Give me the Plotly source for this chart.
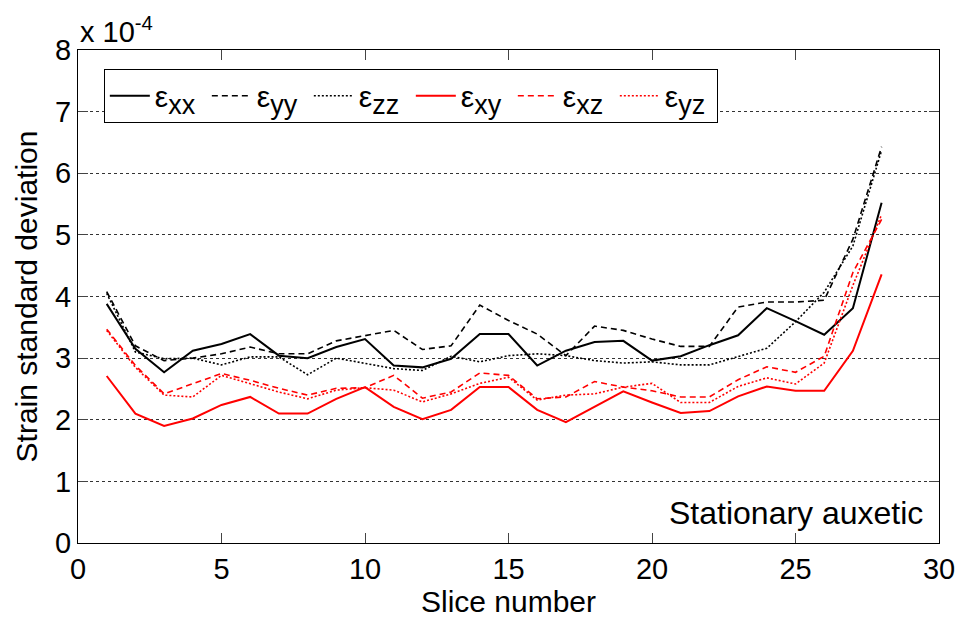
import plotly.graph_objects as go

slices = list(range(1, 29))

e_xx = [3.88, 3.15, 2.77, 3.12, 3.23, 3.39, 3.04, 3.00, 3.18, 3.31, 2.88, 2.85, 2.99, 3.39,
        3.39, 2.88, 3.12, 3.26, 3.28, 2.96, 3.03, 3.21, 3.37, 3.81, 3.60, 3.38, 3.81, 5.52]
e_yy = [4.08, 3.20, 2.96, 3.00, 3.07, 3.18, 3.07, 3.07, 3.28, 3.37, 3.45, 3.14, 3.20, 3.86,
        3.61, 3.39, 3.04, 3.52, 3.45, 3.31, 3.19, 3.19, 3.83, 3.91, 3.91, 3.94, 4.93, 6.43]
e_zz = [4.05, 3.10, 2.99, 3.00, 2.89, 3.02, 3.02, 2.73, 3.00, 2.91, 2.83, 2.80, 3.03, 2.94,
        3.04, 3.07, 3.04, 2.96, 2.92, 2.94, 2.89, 2.89, 3.03, 3.16, 3.59, 4.07, 4.82, 6.37]
e_xy = [2.71, 2.10, 1.90, 2.02, 2.24, 2.37, 2.10, 2.10, 2.34, 2.53, 2.21, 2.01, 2.16, 2.53,
        2.53, 2.16, 1.96, 2.21, 2.46, 2.28, 2.11, 2.14, 2.38, 2.54, 2.47, 2.47, 3.12, 4.36]
e_xz = [3.47, 2.88, 2.42, 2.59, 2.75, 2.64, 2.51, 2.40, 2.51, 2.52, 2.72, 2.35, 2.45, 2.76,
        2.72, 2.34, 2.37, 2.62, 2.53, 2.47, 2.37, 2.37, 2.65, 2.86, 2.77, 3.03, 4.39, 5.25]
e_yz = [3.45, 2.85, 2.40, 2.37, 2.72, 2.59, 2.45, 2.34, 2.48, 2.52, 2.48, 2.29, 2.42, 2.59,
        2.69, 2.32, 2.40, 2.42, 2.53, 2.59, 2.28, 2.28, 2.54, 2.68, 2.58, 2.92, 4.18, 5.33]

names = ["xx", "yy", "zz", "xy", "xz", "yz"]
series = [e_xx, e_yy, e_zz, e_xy, e_xz, e_yz]
colors = ["black", "black", "black", "red", "red", "red"]
dashes = ["solid", "6px,4px", "2px,2px", "solid", "6px,4px", "2px,2px"]
widths = [2, 1.6, 1.6, 2, 1.6, 1.6]

x_ticks = [0, 5, 10, 15, 20, 25, 30]
y_ticks = [0, 1, 2, 3, 4, 5, 6, 7, 8]

FONT = "Liberation Sans, Arial, sans-serif"

fig = go.Figure()
for n, s, c, d, w in zip(names, series, colors, dashes, widths):
    fig.add_trace(go.Scatter(
        x=slices, y=s, mode="lines",
        name="ε<sub><span style='font-size:27px'>%s</span></sub>" % n,
        line=dict(color=c, dash=d, width=w),
    ))

fig.update_layout(
    width=967, height=620,
    margin=dict(l=78, r=22, t=50, b=75),
    paper_bgcolor="white", plot_bgcolor="white",
    font=dict(family=FONT, color="black", size=29),
    showlegend=True,
    legend=dict(
        orientation="h", x=0.03, y=0.962, xanchor="left", yanchor="top",
        bgcolor="white", bordercolor="black", borderwidth=1,
        font=dict(size=30, family=FONT),
        entrywidth=47, entrywidthmode="pixels",
        itemwidth=40,
    ),
    xaxis=dict(
        range=[0, 30], tickvals=x_ticks, ticks="inside", ticklen=10,
        showline=True, linecolor="black", linewidth=1, mirror="ticks",
        showgrid=False, zeroline=False,
        tickfont=dict(size=29),
        title=dict(text="Slice number", font=dict(size=30), standoff=2),
    ),
    yaxis=dict(
        range=[0, 8], tickvals=y_ticks, ticks="inside", ticklen=10,
        showline=True, linecolor="black", linewidth=1, mirror="ticks",
        showgrid=True, gridcolor="#333333", gridwidth=1, griddash="3px,3px",
        zeroline=False,
        tickfont=dict(size=29),
        title=dict(text="Strain standard deviation", font=dict(size=30), standoff=8),
    ),
    annotations=[
        dict(text="x 10<sup>-4</sup>", xref="paper", yref="paper", x=0.0, y=1.0,
             xanchor="left", yanchor="bottom", showarrow=False, font=dict(size=29)),
        dict(text="Stationary auxetic", xref="paper", yref="paper", x=0.984, y=0.06,
             xanchor="right", yanchor="middle", showarrow=False, font=dict(size=32)),
    ],
)

fig.write_html("out.html")
